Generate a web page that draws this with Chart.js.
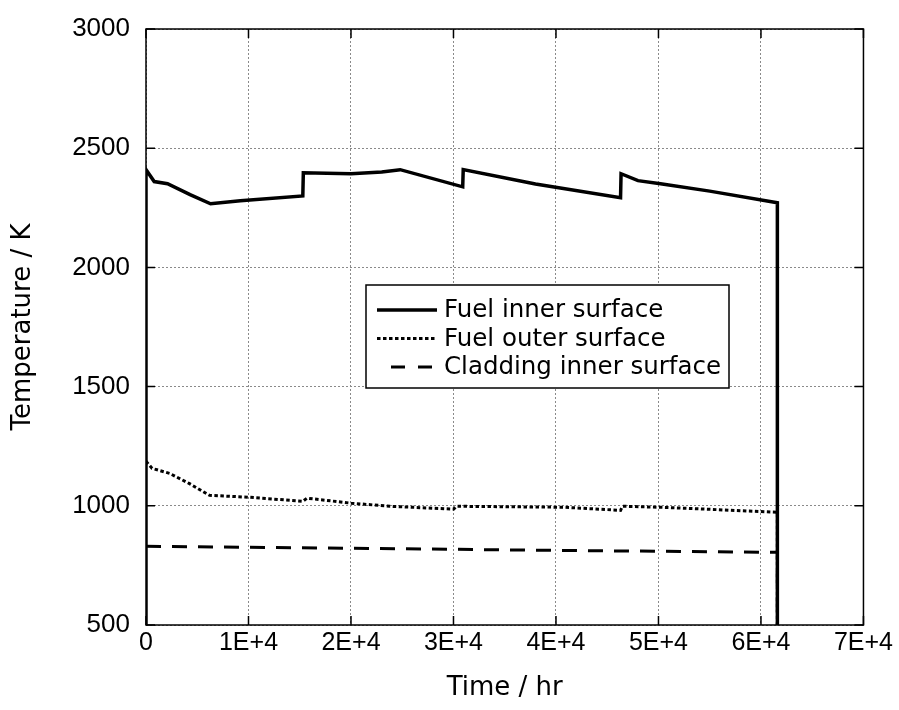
<!DOCTYPE html>
<html>
<head>
<meta charset="utf-8">
<script src="https://cdn.jsdelivr.net/npm/chart.js@4"></script>
<style>
  html, body { margin: 0; padding: 0; background: #fff; }
  canvas { display: block; }
</style>
</head>
<body>
<canvas id="chart" width="899" height="710"></canvas>
<script>
// values (time in hr, temperature in K)
const innerTime = [0, 0, 800, 2100, 4300, 6300, 9200, 15300, 15350, 20000, 23000, 24800, 30900, 30950, 38000, 46300, 46350, 48000, 50200, 55000, 61600, 61600];
const innerTemp = [500, 2410, 2360, 2351, 2305, 2267, 2280, 2300, 2397, 2393, 2400, 2410, 2338, 2410, 2350, 2292, 2393, 2364, 2351, 2320, 2271, 500];

const outerTime = [0, 600, 2300, 4200, 6200, 10000, 15300, 15700, 20000, 23800, 30000, 30300, 40700, 46300, 46500, 50200, 61600, 61600];
const outerTemp = [1187, 1157, 1136, 1094, 1044, 1036, 1019, 1032, 1011, 998, 986, 998, 994, 981, 998, 994, 973, 500];

const cladTime = [0, 20000, 40000, 61600, 61600];
const cladTemp = [830, 822, 813, 805, 500];

const seriesNames = ["Fuel inner surface", "Fuel outer surface", "Cladding inner surface"];
const xTicks = [0, 10000, 20000, 30000, 40000, 50000, 60000, 70000];
const xTickLabels = ["0", "1E+4", "2E+4", "3E+4", "4E+4", "5E+4", "6E+4", "7E+4"];
const yTicks = [500, 1000, 1500, 2000, 2500, 3000];

function toPoints(xs, ys) {
    return xs.map((x, i) => ({ x: x, y: ys[i] }));
}

const styles = [
    { width: 3.5, dash: [] },
    { width: 3, dash: [3.5, 2.5] },
    { width: 3, dash: [15, 11] }
];

// box round the plot plus the small inward tick marks
const frame = {
    id: "frame",
    afterDraw(chart) {
        const c = chart.ctx, a = chart.chartArea;
        const xs = chart.scales.x, ys = chart.scales.y;
        c.save();
        c.strokeStyle = "#000";
        c.lineWidth = 1.5;
        c.strokeRect(a.left, a.top, a.right - a.left, a.bottom - a.top);
        c.beginPath();
        xTicks.forEach(v => {
            const px = xs.getPixelForValue(v);
            c.moveTo(px, a.bottom); c.lineTo(px, a.bottom - 9);
            c.moveTo(px, a.top); c.lineTo(px, a.top + 9);
        });
        yTicks.forEach(v => {
            const py = ys.getPixelForValue(v);
            c.moveTo(a.left, py); c.lineTo(a.left + 9, py);
            c.moveTo(a.right, py); c.lineTo(a.right - 9, py);
        });
        c.stroke();
        c.restore();
    }
};

// legend box inside the plot
const boxLegend = {
    id: "boxLegend",
    afterDatasetsDraw(chart) {
        const c = chart.ctx, a = chart.chartArea;
        const left = a.left + 220, top = a.top + 256, w = 363, h = 103;
        c.save();
        c.fillStyle = "#fff";
        c.fillRect(left, top, w, h);
        c.strokeStyle = "#000";
        c.lineWidth = 1.5;
        c.strokeRect(left, top, w, h);
        c.font = "24.5px 'DejaVu Sans'";
        c.textBaseline = "middle";
        c.fillStyle = "#000";
        seriesNames.forEach((name, i) => {
            const y = top + 25 + i * 28.5;
            c.beginPath();
            c.lineWidth = styles[i].width;
            c.setLineDash(i === 2 ? [14, 13] : styles[i].dash);
            c.moveTo(left + (i === 2 ? 25 : 11), y);
            c.lineTo(left + 71, y);
            c.stroke();
            c.setLineDash([]);
            c.fillText(name, left + 78, y + 1);
        });
        c.restore();
    }
};

new Chart(document.getElementById("chart"), {
    type: "line",
    data: {
        datasets: [
            { label: seriesNames[0], data: toPoints(innerTime, innerTemp) },
            { label: seriesNames[1], data: toPoints(outerTime, outerTemp) },
            { label: seriesNames[2], data: toPoints(cladTime, cladTemp) }
        ].map((d, i) => Object.assign(d, {
            borderColor: "#000",
            borderWidth: styles[i].width,
            borderDash: styles[i].dash,
            pointRadius: 0,
            tension: 0,
            fill: false
        }))
    },
    options: {
        responsive: false,
        animation: false,
        layout: { padding: { left: 0, right: 35, top: 28, bottom: 0 } },
        plugins: { legend: { display: false }, tooltip: { enabled: false } },
        scales: {
            x: {
                type: "linear",
                min: 0,
                max: 70000,
                afterBuildTicks(scale) { scale.ticks = xTicks.map(v => ({ value: v })); },
                afterFit(scale) { scale.height = 85; },
                ticks: {
                    color: "#000",
                    font: { family: "'Liberation Sans'", size: 25, lineHeight: 1 },
                    padding: 6,
                    maxRotation: 0,
                    callback: (v) => xTickLabels[xTicks.indexOf(v)]
                },
                grid: { color: "#8a8a8a", lineWidth: 1, drawTicks: false },
                border: { display: false, dash: [2, 2] },
                title: {
                    display: true,
                    text: "Time / hr",
                    color: "#000",
                    font: { family: "'DejaVu Sans'", size: 26 },
                    padding: { top: 0, bottom: 6 }
                }
            },
            y: {
                min: 500,
                max: 3000,
                afterBuildTicks(scale) { scale.ticks = yTicks.map(v => ({ value: v })); },
                afterFit(scale) { scale.width = 146; },
                ticks: {
                    color: "#000",
                    font: { family: "'Liberation Sans'", size: 26, lineHeight: 1 },
                    padding: 16,
                    callback: (v) => String(v)
                },
                grid: { color: "#8a8a8a", lineWidth: 1, drawTicks: false },
                border: { display: false, dash: [2, 2] },
                title: {
                    display: true,
                    text: "Temperature / K",
                    color: "#000",
                    font: { family: "'DejaVu Sans'", size: 26 },
                    padding: { top: 8, bottom: 0 }
                }
            }
        }
    },
    plugins: [frame, boxLegend]
});
</script>
</body>
</html>
